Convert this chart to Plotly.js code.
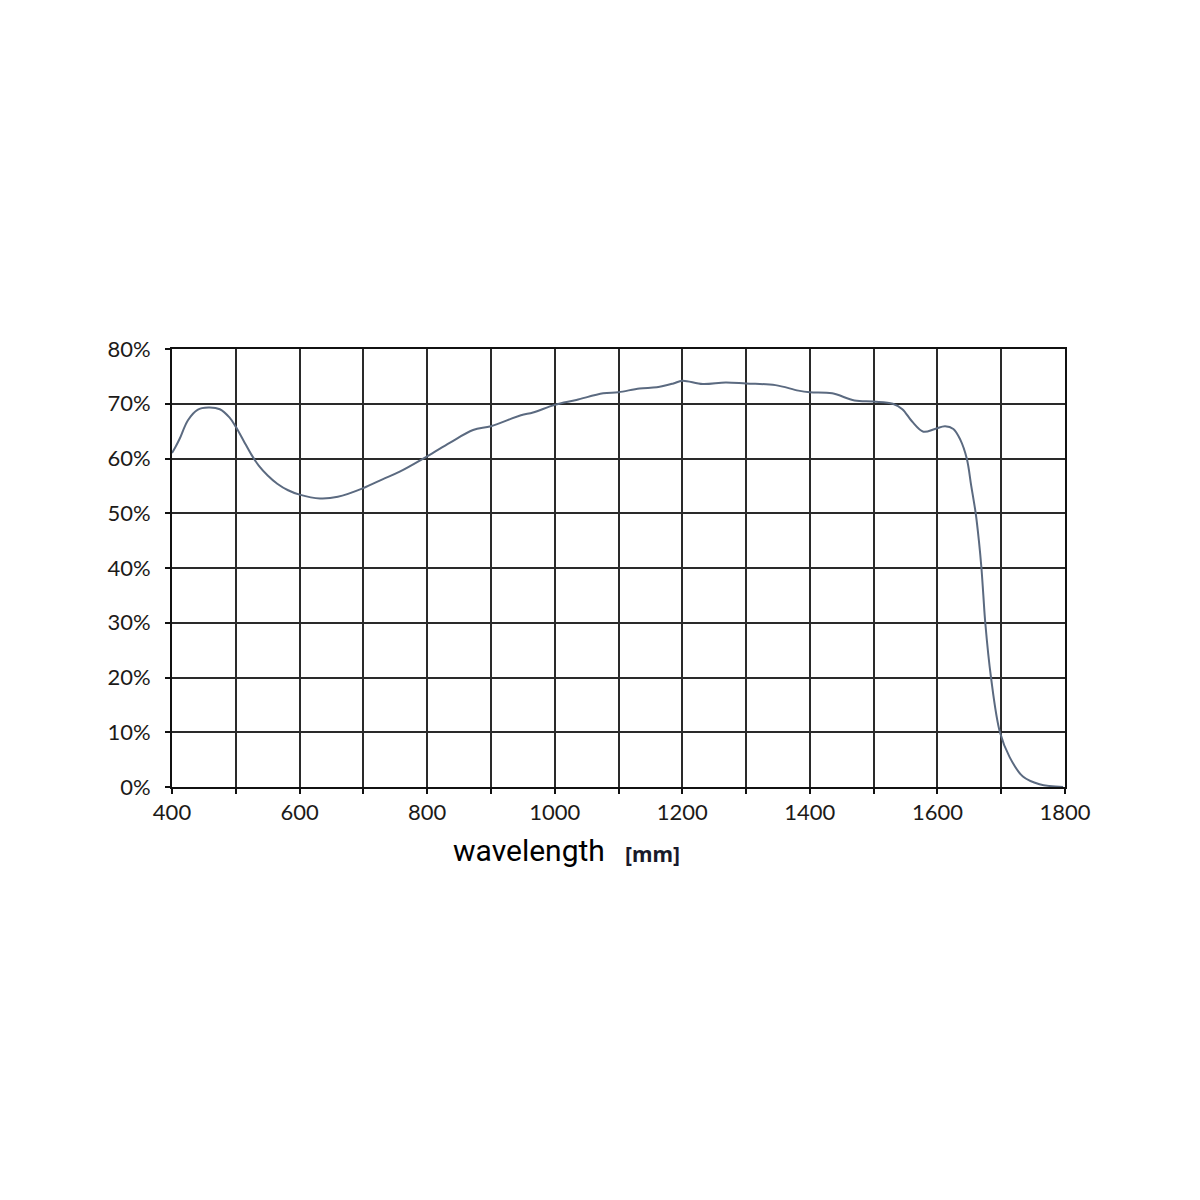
<!DOCTYPE html>
<html>
<head>
<meta charset="utf-8">
<script src="https://cdn.plot.ly/plotly-3.0.1.min.js"></script>
<style>html,body{margin:0;padding:0;background:#fff;}#chart{width:1200px;height:1200px;}</style>
</head>
<body>
<div id="chart"></div>
<script>
const wavelength = [400, 405, 412, 425, 440, 457, 475, 490, 500, 512, 524, 536, 550, 565, 582, 600, 632, 660, 700, 730, 757, 800, 836, 872, 900, 947, 966, 1000, 1034, 1076, 1100, 1133, 1160, 1186, 1200, 1232, 1268, 1300, 1346, 1382, 1400, 1435, 1470, 1500, 1530, 1545, 1560, 1578, 1596, 1612, 1625, 1636, 1646, 1653, 1660, 1665, 1669, 1672, 1675, 1684, 1698, 1713, 1734, 1760, 1797];
const response = [61, 62, 63.6, 67, 68.9, 69.3, 69.0, 67.5, 65.8, 63.3, 60.8, 58.7, 56.9, 55.4, 54.2, 53.4, 52.7, 53.0, 54.6, 56.2, 57.6, 60.4, 62.9, 65.2, 65.9, 67.9, 68.4, 69.8, 70.7, 71.9, 72.1, 72.8, 73.0, 73.7, 74.2, 73.6, 73.9, 73.7, 73.4, 72.4, 72.1, 71.9, 70.6, 70.4, 70.0, 69.0, 66.8, 64.9, 65.4, 65.9, 65.4, 63.4, 60.0, 55.0, 50.0, 45.0, 40.0, 35.0, 30.0, 20.0, 10.0, 5.5, 1.9, 0.5, 0];
const xTickVals = [400, 500, 600, 700, 800, 900, 1000, 1100, 1200, 1300, 1400, 1500, 1600, 1700, 1800];
const xTickText = ['400', '', '600', '', '800', '', '1000', '', '1200', '', '1400', '', '1600', '', '1800'];
const yTickVals = [0, 10, 20, 30, 40, 50, 60, 70, 80];
const yTickText = ['0%', '10%', '20%', '30%', '40%', '50%', '60%', '70%', '80%'];
const xTitle = 'wavelength';
const xUnit = '[mm]';

const tickFont = {family: 'Lato, Open Sans, sans-serif', size: 22, color: '#1c1a18'};

Plotly.newPlot('chart', [{
  x: wavelength, y: response, type: 'scatter', mode: 'lines',
  line: {color: '#5b6a80', width: 2, shape: 'spline', smoothing: 1},
  hoverinfo: 'skip'
}], {
  width: 1200, height: 1200,
  paper_bgcolor: '#fff', plot_bgcolor: '#fff',
  showlegend: false,
  margin: {l: 172, r: 135, t: 349, b: 413, pad: 0},
  xaxis: {
    range: [400, 1800], tickmode: 'array', tickvals: xTickVals, ticktext: xTickText,
    showgrid: true, gridcolor: '#2a2a2a', gridwidth: 2,
    showline: true, linecolor: '#111', linewidth: 2, mirror: true,
    ticks: 'outside', ticklen: 5, tickwidth: 2, tickcolor: '#111',
    tickfont: tickFont, zeroline: false, fixedrange: true
  },
  yaxis: {
    range: [0, 80], tickmode: 'array', tickvals: yTickVals, ticktext: yTickText,
    showgrid: true, gridcolor: '#2a2a2a', gridwidth: 2,
    showline: true, linecolor: '#111', linewidth: 2, mirror: true,
    ticks: 'outside', ticklen: 5, tickwidth: 2, tickcolor: '#111',
    ticklabelstandoff: 10,
    tickfont: tickFont, zeroline: false, fixedrange: true
  },
  annotations: [{
    xref: 'paper', yref: 'paper', x: 0.3125, y: -0.1461, xanchor: 'left', yanchor: 'middle',
    showarrow: false, text: xTitle,
    font: {family: 'Roboto, Noto Sans, sans-serif', size: 30, color: '#000'}
  }, {
    xref: 'paper', yref: 'paper', x: 0.505, y: -0.1535, xanchor: 'left', yanchor: 'middle',
    showarrow: false, text: '<b>' + xUnit + '</b>',
    font: {family: 'Noto Sans, Open Sans, sans-serif', size: 21, color: '#1a1a2a'}
  }]
}, {displayModeBar: false, staticPlot: true});
</script>
</body>
</html>
